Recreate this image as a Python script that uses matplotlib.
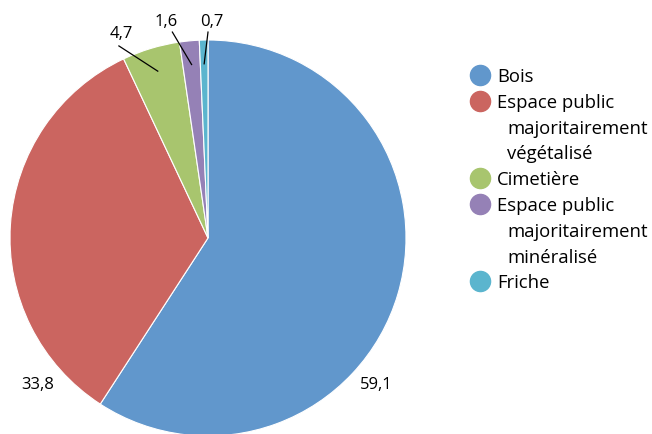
import matplotlib.pyplot as plt
from matplotlib.lines import Line2D
import numpy as np

plt.rcParams['font.family'] = ['Open Sans', 'DejaVu Sans']

categories = [["Bois"],
              ["Espace public", "majoritairement", "végétalisé"],
              ["Cimetière"],
              ["Espace public", "majoritairement", "minéralisé"],
              ["Friche"]]
values = [59.1, 33.8, 4.7, 1.6, 0.7]
value_labels = ["59,1", "33,8", "4,7", "1,6", "0,7"]
colors = ["#6197CC", "#CB6560", "#A8C56E", "#9581B6", "#5BB5CE"]

# label positions (in pie radius units) and leader line starts
label_pos = [(0.85, -0.74), (-0.86, -0.74), (-0.44, 1.03), (-0.21, 1.09), (0.02, 1.09)]
leader = [None, None, (-0.45, 0.97), (-0.18, 1.04), (0.00, 1.04)]

W, H = 652, 434
fig = plt.figure(figsize=(W / 100, H / 100), dpi=100)
ax = fig.add_axes([10 / W, -2 / H, 396 / W, 396 / H])

wedges, _ = ax.pie(values, colors=colors, startangle=90, counterclock=False,
                   wedgeprops=dict(edgecolor="white", linewidth=0.8))
ax.set_xlim(-1, 1)
ax.set_ylim(-1, 1)
ax.set_aspect("equal")
ax.axis("off")

total = sum(values)
theta = 90 - 360 * (np.cumsum(values) - np.array(values) / 2) / total
for i, txt in enumerate(value_labels):
    x, y = label_pos[i]
    ax.text(x, y, txt, ha="center", va="center", fontsize=12, color="black")
    if leader[i] is not None:
        ang = np.deg2rad(theta[i])
        ex, ey = 0.88 * np.cos(ang), 0.88 * np.sin(ang)
        ax.plot([leader[i][0], ex], [leader[i][1], ey], color="black", lw=0.9,
                clip_on=False)

# legend drawn line by line: marker on first line, wrapped lines indented
row_y = 75
row_h = 25.8
for c, lines in zip(colors, categories):
    fig.add_artist(Line2D([480 / W], [1 - row_y / H], marker="o", markersize=14.5,
                          markerfacecolor=c, markeredgecolor=c, linestyle="none",
                          transform=fig.transFigure))
    for j, line in enumerate(lines):
        x0 = 497 if j == 0 else 507
        fig.text(x0 / W, 1 - row_y / H, line, ha="left", va="center_baseline",
                 fontsize=13.3, color="black")
        row_y += row_h

fig.savefig("out.png", dpi=100)
